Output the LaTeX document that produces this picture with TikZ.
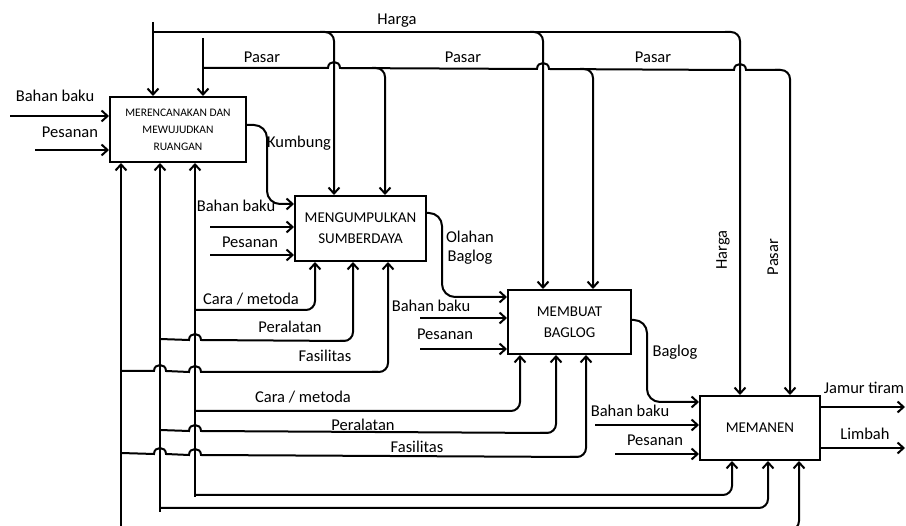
\documentclass[tikz,border=0pt]{standalone}
\usepackage{fontspec}
\setmainfont{Carlito}
\usetikzlibrary{arrows.meta,calc}
\tikzset{
  ln/.style={line width=2pt},
  arr/.style={ln,-{Straight Barb[length=6pt,width=11pt,line width=2pt]}},
  rc/.style={rounded corners=9pt},
  proc/.style={draw,line width=2pt,rectangle,inner sep=0pt,align=center,font=\fontsize{15}{21}\selectfont},
  lbl/.style={inner sep=0pt,font=\fontsize{16.5}{19}\selectfont},
}
\newcommand\hop[2]{-- ({#1-6},#2) .. controls ({#1-6},{#2-8}) and ({#1+6},{#2-8}) .. ({#1+6},#2)}
\begin{document}
\begin{tikzpicture}[x=1pt,y=-1pt]
\useasboundingbox (0,0) rectangle (906,526);
% process boxes
\node[proc,minimum width=136pt,minimum height=65pt,font=\fontsize{11.5}{17}\selectfont] (A) at (178,129.5) {MERENCANAKAN DAN\\MEWUJUDKAN\\RUANGAN};
\node[proc,minimum width=131pt,minimum height=65pt] (B) at (360.5,228.5) {MENGUMPULKAN\\SUMBERDAYA};
\node[proc,minimum width=123pt,minimum height=64pt] (C) at (569.5,322) {MEMBUAT\\BAGLOG};
\node[proc,minimum width=120pt,minimum height=64pt] (D) at (760,428) {MEMANEN};

% coordinates
\coordinate (h0) at (153,22);
\coordinate (hB) at (334,32);
\coordinate (hC) at (543,32);
\coordinate (hD) at (740,32);
\coordinate (p0) at (203,38);
\coordinate (pB) at (385,68);
\coordinate (pC) at (593,69);
\coordinate (pD) at (790,70);
\coordinate (a1) at (10,116);
\coordinate (a2) at (35,150);
\coordinate (k0) at (246,125);
\coordinate (k1) at (267,125);
\coordinate (k2) at (267,204);
\coordinate (b1) at (210,227);
\coordinate (b2) at (210,255);
\coordinate (m1) at (121,530);
\coordinate (m2) at (160,512);
\coordinate (m3) at (195,497);
\coordinate (cB) at (315,310);
\coordinate (qB) at (353,341);
\coordinate (fB) at (388,372);
\coordinate (o0) at (426,213);
\coordinate (o1) at (442,213);
\coordinate (o2) at (442,297);
\coordinate (c1) at (420,318);
\coordinate (c2) at (420,349);
\coordinate (cC) at (520,411);
\coordinate (qC) at (556,433);
\coordinate (fC) at (586,457);
\coordinate (g0) at (631,320);
\coordinate (g1) at (647,320);
\coordinate (g2) at (647,402);
\coordinate (d1) at (595,425);
\coordinate (d2) at (615,454);
\coordinate (cD) at (732,495);
\coordinate (qD) at (768,508);
\coordinate (fD) at (799,530);
\coordinate (e1) at (905,407);
\coordinate (e2) at (905,448);

% Harga
\draw[arr] (h0) -- (h0 |- A.north);
\draw[ln] (153,32) -- (730,32);
\draw[arr,rc] (320,32) -- (hB) -- (hB |- B.north);
\draw[arr,rc] (530,32) -- (hC) -- (hC |- C.north);
\draw[arr,rc] (725,32) -- (hD) -- (hD |- D.north);

% Pasar
\draw[arr] (p0) -- (p0 |- A.north);
\draw[ln] (203,68) \hop{334}{68} \hop{543}{69} \hop{740}{70} -- (780,70);
\draw[arr,rc] (372,68) -- (pB) -- (pB |- B.north);
\draw[arr,rc] (580,69) -- (pC) -- (pC |- C.north);
\draw[arr,rc] (775,70) -- (pD) -- (pD |- D.north);

% inputs to A
\draw[arr] (a1) -- (a1 -| A.west);
\draw[arr] (a2) -- (a2 -| A.west);

% Kumbung
\draw[arr,rounded corners=13pt] (k0 -| A.east) -- (k1) -- (k2) -- (k2 -| B.west);
% inputs to B
\draw[arr] (b1) -- (b1 -| B.west);
\draw[arr] (b2) -- (b2 -| B.west);

% mechanism verticals to A
\draw[arr] (m1) -- (m1 |- A.south);
\draw[arr] (m2) -- (m2 |- A.south);
\draw[arr] (m3) -- (m3 |- A.south);

% mechanisms to B
\draw[arr,rc] (cB -| m3) -- (cB) -- (cB |- B.south);
\draw[ln] (160,339) \hop{195}{340} -- (345,341);
\draw[arr,rc] (340,341) -- (qB) -- (qB |- B.south);
\draw[ln] (121,371) \hop{160}{371} \hop{195}{372} -- (378,372);
\draw[arr,rc] (372,372) -- (fB) -- (fB |- B.south);

% Olahan Baglog
\draw[arr,rounded corners=13pt] (o0 -| B.east) -- (o1) -- (o2) -- (o2 -| C.west);
\draw[arr] (c1) -- (c1 -| C.west);
\draw[arr] (c2) -- (c2 -| C.west);

% mechanisms to C
\draw[arr,rc] (cC -| m3) -- (cC) -- (cC |- C.south);
\draw[ln] (160,430) \hop{195}{431} -- (548,433);
\draw[arr,rc] (540,433) -- (qC) -- (qC |- C.south);
\draw[ln] (121,453) \hop{160}{454} \hop{195}{455} -- (578,457);
\draw[arr,rc] (570,457) -- (fC) -- (fC |- C.south);

% Baglog
\draw[arr,rounded corners=13pt] (g0 -| C.east) -- (g1) -- (g2) -- (g2 -| D.west);
\draw[arr] (d1) -- (d1 -| D.west);
\draw[arr] (d2) -- (d2 -| D.west);

% mechanisms to D
\draw[arr,rc] (cD -| m3) -- (cD) -- (cD |- D.south);
\draw[arr,rc] (qD -| m2) -- (qD) -- (qD |- D.south);
\draw[arr,rc] (fD -| m1) -- (fD) -- (fD |- D.south);

% outputs
\draw[arr] (e1 -| D.east) -- (e1);
\draw[arr] (e2 -| D.east) -- (e2);

% labels
\node[lbl] (lh1) at (397,21) {Harga};
\node[lbl] (lp1) at (262,57) {Pasar};
\node[lbl] (lp2) at (463,57) {Pasar};
\node[lbl] (lp3) at (653,57) {Pasar};
\node[lbl,rotate=90] (lh2) at (723,250) {Harga};
\node[lbl,rotate=90] (lp4) at (773,257) {Pasar};
\node[lbl] (la1) at (55,96) {Bahan baku};
\node[lbl] (la2) at (70,132) {Pesanan};
\node[lbl] (lk) at (299,143) {Kumbung};
\node[lbl] (lb1) at (236,206) {Bahan baku};
\node[lbl] (lb2) at (250,242) {Pesanan};
\node[lbl] (lcB) at (251,299) {Cara / metoda};
\node[lbl] (lqB) at (290,327) {Peralatan};
\node[lbl] (lfB) at (325,356) {Fasilitas};
\node[lbl,align=center] (lo) at (470,248) {Olahan\\Baglog};
\node[lbl] (lc1) at (431,306) {Bahan baku};
\node[lbl] (lc2) at (445,334) {Pesanan};
\node[lbl] (lcC) at (303,397) {Cara / metoda};
\node[lbl] (lqC) at (363,425) {Peralatan};
\node[lbl] (lfC) at (417,447) {Fasilitas};
\node[lbl] (lg) at (675,352) {Baglog};
\node[lbl] (ld1) at (630,411) {Bahan baku};
\node[lbl] (ld2) at (655,440) {Pesanan};
\node[lbl] (le1) at (864,388) {Jamur tiram};
\node[lbl] (le2) at (865,434) {Limbah};
\end{tikzpicture}
\end{document}
